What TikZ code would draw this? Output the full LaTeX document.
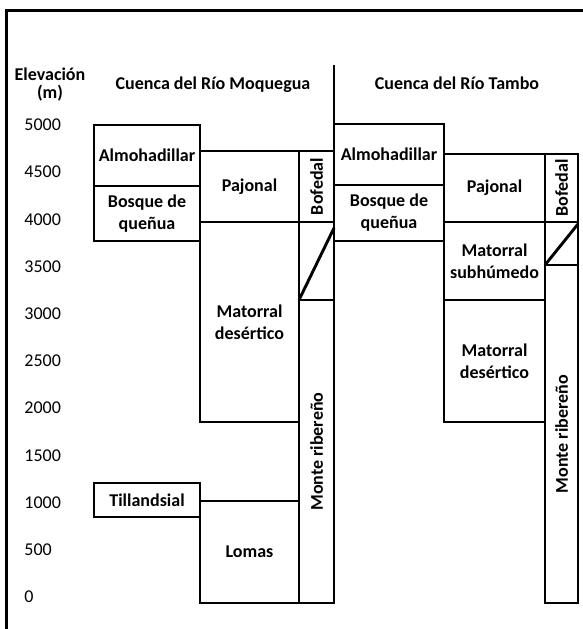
\documentclass[tikz,border=0pt]{standalone}
\usepackage{fontspec}
\setmainfont{Carlito}
\usetikzlibrary{positioning}

\begin{document}
\begin{tikzpicture}[
                x = 1pt, y = -1pt, % pixel grid, y runs downwards
                line width = 2.9pt % box outline
            ]

            \tikzstyle{zone}=[draw = black, rectangle, inner sep = 0pt,
            outer sep = 0pt, align = center,
            font = \fontsize{18}{22}\selectfont\bfseries]
            \tikzstyle{upright}=[zone, rotate = 90]
            \tikzstyle{num}=[anchor = west, inner sep = 0pt,
            font = \fontsize{18}{22}\selectfont]
            \tikzstyle{title}=[anchor = base, inner sep = 0pt, align = center,
            font = \fontsize{18}{22}\selectfont\bfseries]

            \useasboundingbox (0,0) rectangle (583,629);

            % frame
            \draw (6.5,650) -- (6.5,10.5) -- (600,10.5);

            % elevation axis
            \node[title] (elev) at (50,80) {Elevación};
            \node[title] (unit) at (50,98) {(m)};
            \foreach \v in {5000,4500,...,0}
                \node[num] (e\v) at (23, {597 - 0.0944*\v}) {\v};

            % Cuenca del Rio Moquegua
            \node[title] (tM) at (213,89) {Cuenca del Río Moquegua};
            \node[zone, minimum width = 106pt, minimum height = 61pt] (almM)
            at (147,155.5) {Almohadillar};
            \node[zone, minimum width = 106pt, minimum height = 55pt] (bosM)
            [below = 0pt of almM] {Bosque de\\queñua};
            \node[zone, minimum width = 99pt, minimum height = 71pt] (pajM)
            at (249.5,186.5) {Pajonal};
            \node[zone, minimum width = 99pt, minimum height = 200pt] (desM)
            [below = 0pt of pajM] {Matorral\\desértico};
            \node[upright, minimum width = 71pt, minimum height = 35pt] (bofM)
            at (316.5,186.5) {Bofedal};
            \node[zone, minimum width = 35pt, minimum height = 78pt] (diaM)
            at (316.5,261) {};
            \node[upright, minimum width = 303pt, minimum height = 35pt] (monM)
            at (316.5,451.5) {Monte ribereño};
            \node[zone, minimum width = 106pt, minimum height = 34pt] (tilM)
            at (147,500) {Tillandsial};
            \node[zone, minimum width = 99pt, minimum height = 102pt] (lomM)
            at (249.5,552) {Lomas};

            \draw (diaM.south west) -- ([yshift = -6pt]diaM.north east);

            % Cuenca del Rio Tambo
            \node[title] (tT) at (457,89) {Cuenca del Río Tambo};
            \node[zone, minimum width = 110pt, minimum height = 61pt] (almT)
            at (389,154.5) {Almohadillar};
            \node[zone, minimum width = 110pt, minimum height = 56pt] (bosT)
            [below = 0pt of almT] {Bosque de\\queñua};
            \node[zone, minimum width = 101pt, minimum height = 68pt] (pajT)
            at (494.5,188) {Pajonal};
            \node[zone, minimum width = 101pt, minimum height = 78pt] (subT)
            [below = 0pt of pajT] {Matorral\\subhúmedo};
            \node[zone, minimum width = 101pt, minimum height = 122pt] (desT)
            [below = 0pt of subT] {Matorral\\desértico};
            \node[upright, minimum width = 68pt, minimum height = 33pt] (bofT)
            at (561.5,188) {Bofedal};
            \node[zone, minimum width = 33pt, minimum height = 43pt] (diaT)
            at (561.5,243.5) {};
            \node[upright, minimum width = 338pt, minimum height = 33pt] (monT)
            at (561.5,434) {Monte ribereño};

            \draw (diaT.south west) -- ([yshift = -2pt]diaT.north east);

            % divider between the two basins
            \coordinate (split) at (334,65);
            \draw[line width = 2pt] (split) -- (almT.north west);

        \end{tikzpicture}
\end{document}
